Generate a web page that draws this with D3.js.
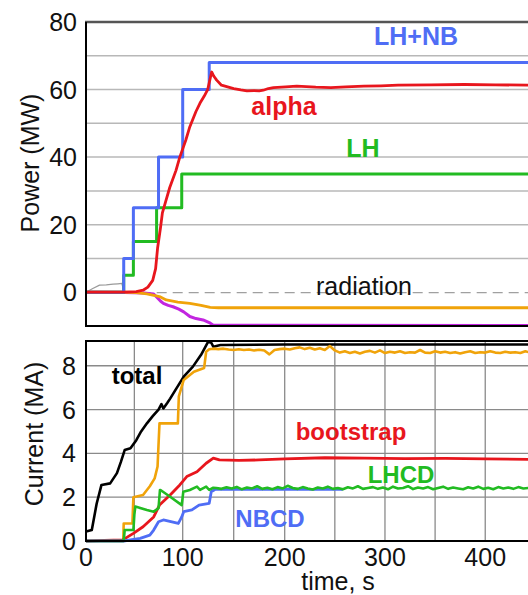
<!DOCTYPE html>
<html><head><meta charset="utf-8">
<script src="https://cdn.jsdelivr.net/npm/d3@7"></script>
<style>
body{margin:0;background:#fff;}
svg{display:block;font-family:"Liberation Sans",Arial,Helvetica,sans-serif;}
</style></head>
<body>
<svg id="c" width="528" height="595"></svg>
<script>
// ---------- DATA ----------
// Power panel (MW)
const lhnbT = [0, 39, 49, 75, 100, 126, 500];
const lhnbV = [0, 10, 25, 40, 60, 68, 68];
const lhT = [0, 39, 49, 73, 99, 500];
const lhV = [0, 5, 15, 25, 35, 35];
const alphaT = [0,39,52,59,64,69,72,74,77,79,82.5,86.6,93,97,103,107,113,117,121,124.5,128.4,130.4,133.3,138,144,150,157,163,170,175,179,184,189,201,212,231,246,261,279,296,313,346,379,410,442,500];
const alphaV = [0,0,0.2,0.6,1.5,3.5,7,13,19,23.5,27,31,36,40,45,49,53.5,56,58,60,65.2,64,62.8,61.3,60.8,60.3,59.9,59.6,59.7,59.6,59.8,60.3,60.6,60.8,61,60.7,60.6,60.8,61,61.1,61.3,61.4,61.5,61.4,61.3,61.3];
const orangePT = [0,39,52,63,70,77,83,95,107,118,127,135,500];
const orangePV = [0,0,-0.1,-0.5,-0.9,-1.4,-2.3,-2.9,-3.3,-3.9,-4.5,-4.6,-4.6];
const magentaT = [0,40,60,70,73,77,80,85,90,96,101,107,113,120,126,130,500];
const magentaV = [0,-0.1,-0.2,-0.5,-1.4,-2.6,-3.3,-3.9,-4.3,-5.0,-5.8,-7.2,-7.8,-8.2,-9.0,-9.8,-9.85];
const radEarlyT = [0,7,14,21,28,33,37,39.5];
const radEarlyV = [0,1.1,2.1,2.2,2.4,2.5,2.6,0];
const radLateT = [40, 500];
const radLateV = [-0.1, -0.1];
const powerTicks = [0, 20, 40, 60, 80];
const powerGrid = [10, 20, 30, 40, 50, 60, 70];

// Current panel (MA)
const totalT = [0,6,11,16,25,32,36,40,46,52,57,63,69,75,78,80,84,87,94,101,110,118,125,128,130,137,200,300,400,500];
const totalV = [0.43,0.5,1.7,2.56,2.63,3.1,3.6,4.15,4.23,4.6,5.0,5.37,5.7,6.0,6.25,6.05,6.3,6.5,7.0,7.5,7.96,8.5,9.1,9.05,8.87,8.95,8.97,8.97,8.97,8.97];
const noiseT = d3.range(130, 450, 5);
const orangeCT = [0,38.5,39,48,49,59,66,71,74,75,76,95,96,101,111,121,123,126];
const orangeCV = [0,0,0.8,0.8,2.0,2.1,2.5,2.86,3.4,4.4,5.37,5.37,6.6,7.35,7.73,7.9,8.64,8.75];
const orangeNoise = [8.78,8.76,8.78,8.74,8.72,8.75,8.72,8.74,8.7,8.73,8.7,8.52,8.72,8.76,8.78,8.74,8.8,8.84,8.76,8.82,8.74,8.8,8.72,8.9,8.7,
  8.6,8.66,8.58,8.64,8.56,8.64,8.68,8.6,8.7,8.58,8.64,8.6,8.66,8.58,8.62,8.6,8.72,8.6,8.58,8.66,8.6,8.64,8.58,8.62,8.56,8.62,8.66,8.58,8.62,8.6,8.66,8.6,8.58,8.64,8.6,8.62,8.58,8.66,8.6];
const bootT = [0,38,49,59,70,76,87,97,104,114,123,130,136,155,175,200,240,280,320,360,400,450,500];
const bootV = [0,0.05,0.35,0.65,1.1,1.64,2.1,2.56,2.94,3.16,3.55,3.78,3.7,3.68,3.7,3.75,3.8,3.78,3.76,3.77,3.75,3.72,3.72];
const lhcdT = [0,39,40,49,50,51,63,70,75,76.5,77,87,99,100.6,107,114,117,123,126,130];
const lhcdV = [0,0,0.5,0.5,1.2,1.57,1.42,1.34,1.5,2.33,2.33,2.02,1.64,2.25,2.33,2.48,2.33,2.48,2.33,2.43];
const lhcdNoise = [2.42,2.38,2.45,2.4,2.47,2.36,2.44,2.4,2.5,2.38,2.43,2.36,2.46,2.4,2.52,2.42,2.38,2.46,2.4,2.35,2.44,2.4,2.48,2.38,2.42,2.36,2.45,2.4,2.5,2.38,2.42,2.46,2.38,2.44,2.36,2.48,2.4,2.42,2.5,2.37,2.44,2.4,2.46,2.36,2.42,2.48,2.38,2.44,2.4,2.36,2.45,2.4,2.48,2.38,2.43,2.36,2.46,2.4,2.44,2.38,2.46,2.4,2.42,2.38];
const nbcdT = [0,39,56,66,70,75,80,95.5,99,101,109,116,126,128,132,258];
const nbcdV = [0,0,0.12,0.27,0.5,0.88,0.96,0.8,1.1,1.34,1.42,1.64,1.72,2.25,2.36,2.36];
const currentTicks = [0, 2, 4, 6, 8];
const currentGrid = [2, 4, 6, 8];
const timeTicks = [0, 100, 200, 300, 400];
const timeGrid = [50, 100, 150, 200, 250, 300, 350, 400, 450];

// ---------- DRAW ----------
const svg = d3.select("#c");
const x = d3.scaleLinear().domain([0, 100, 200, 500]).range([86, 182.7, 284.7, 585.5]);
const yP = d3.scaleLinear().domain([-10, 80]).range([326, 22]);
const yC = d3.scaleLinear().domain([0, 9.13]).range([541, 341]);

const C = {blue:"#4f6df5", green:"#22bb22", red:"#e8161d", orange:"#f0a30a", magenta:"#c225e0", black:"#000"};

const zip = (t, v) => t.map((d, i) => [d, v[i]]);

// Power panel grid
svg.append("g").selectAll("line").data(powerGrid).join("line")
  .attr("x1", x(0)).attr("x2", 528)
  .attr("y1", d => yP(d)).attr("y2", d => yP(d))
  .attr("stroke", "#b8b8b8").attr("stroke-width", 1.5);

// Current panel grid
svg.append("g").selectAll("line").data(currentGrid).join("line")
  .attr("x1", x(0)).attr("x2", 528)
  .attr("y1", d => yC(d)).attr("y2", d => yC(d))
  .attr("stroke", "#8a8a8a").attr("stroke-width", 1.3);
svg.append("g").selectAll("line").data(timeGrid).join("line")
  .attr("x1", d => x(d)).attr("x2", d => x(d))
  .attr("y1", yC(0)).attr("y2", yC(9.13))
  .attr("stroke", "#8a8a8a").attr("stroke-width", 1.3);

const lineP = d3.line().x(d => x(d[0])).y(d => yP(d[1]));
const lineC = d3.line().x(d => x(d[0])).y(d => yC(d[1]));
const stepP = d3.line().x(d => x(d[0])).y(d => yP(d[1])).curve(d3.curveStepAfter);

function path(g, data, gen, color, w, dash) {
  const p = g.append("path").datum(data).attr("d", gen)
    .attr("fill", "none").attr("stroke", color).attr("stroke-width", w)
    .attr("stroke-linejoin", "round").attr("stroke-linecap", "butt");
  if (dash) p.attr("stroke-dasharray", dash);
  return p;
}

const gP = svg.append("g");
path(gP, zip(radLateT, radLateV), lineP, "#a0a0a0", 1.2, "10,6");
path(gP, zip(radEarlyT, radEarlyV), lineP, "#9a9a9a", 1.2);
path(gP, zip(magentaT, magentaV), lineP, C.magenta, 3);
path(gP, zip(orangePT, orangePV), lineP, C.orange, 2.8);
path(gP, zip(lhT, lhV), stepP, C.green, 3);
path(gP, zip(lhnbT, lhnbV), stepP, C.blue, 3);
path(gP, zip(alphaT, alphaV), lineP, C.red, 2.8);

const gC = svg.append("g");
path(gC, zip(totalT, totalV), lineC, C.black, 2.6);
path(gC, zip(orangeCT, orangeCV).concat(zip(noiseT, orangeNoise)), lineC, C.orange, 2.6);
path(gC, zip(bootT, bootV), lineC, C.red, 2.8);
path(gC, zip(nbcdT, nbcdV), lineC, C.blue, 2.8);
path(gC, zip(lhcdT, lhcdV).concat(zip(noiseT.map(t => t + 3), lhcdNoise)), lineC, C.green, 2.6);

// Frames
function hline(y, x1, x2, color, w) {
  svg.append("line").attr("x1", x1).attr("x2", x2).attr("y1", y).attr("y2", y)
    .attr("stroke", color).attr("stroke-width", w);
}
function vline(xx, y1, y2, color, w) {
  svg.append("line").attr("x1", xx).attr("x2", xx).attr("y1", y1).attr("y2", y2)
    .attr("stroke", color).attr("stroke-width", w);
}
hline(yP(80), x(0) - 1, 528, "#555", 2.4);
hline(yP(-10), x(0) - 1, 528, "#000", 2);
vline(x(0), yP(80), yP(-10), "#000", 2);
hline(yC(9.13), x(0) - 1, 528, "#000", 2.2);
hline(yC(0), x(0) - 1, 528, "#000", 2);
vline(x(0), yC(9.13), yC(0), "#000", 2);

// Tick labels
svg.append("g").selectAll("text").data(powerTicks).join("text")
  .attr("x", 77).attr("y", d => yP(d)).attr("dy", "0.36em")
  .attr("text-anchor", "end").attr("font-size", 25).attr("fill", "#111")
  .text(d => d);
svg.append("g").selectAll("text").data(currentTicks).join("text")
  .attr("x", 76).attr("y", d => yC(d)).attr("dy", "0.36em")
  .attr("text-anchor", "end").attr("font-size", 25).attr("fill", "#111")
  .text(d => d);
svg.append("g").selectAll("text").data(timeTicks).join("text")
  .attr("x", d => x(d)).attr("y", 566)
  .attr("text-anchor", "middle").attr("font-size", 25).attr("fill", "#111")
  .text(d => d);

// Axis titles
svg.append("text").attr("transform", "translate(39,163) rotate(-90)")
  .attr("text-anchor", "middle").attr("font-size", 25).attr("fill", "#111").text("Power (MW)");
svg.append("text").attr("transform", "translate(43,434) rotate(-90)")
  .attr("text-anchor", "middle").attr("font-size", 25).attr("fill", "#111").text("Current (MA)");
svg.append("text").attr("x", 338).attr("y", 590)
  .attr("text-anchor", "middle").attr("font-size", 25).attr("fill", "#111").text("time, s");

// Series labels
const labels = [
  {t: "LH+NB", x: 416, y: 45, c: C.blue, s: 25, b: true},
  {t: "alpha", x: 284, y: 115, c: C.red, s: 25, b: true},
  {t: "LH", x: 363, y: 157, c: C.green, s: 25, b: true},
  {t: "radiation", x: 364, y: 295, c: "#111", s: 25, b: false},
  {t: "total", x: 137, y: 384, c: C.black, s: 24, b: true},
  {t: "bootstrap", x: 351, y: 440, c: C.red, s: 24, b: true},
  {t: "LHCD", x: 401, y: 483, c: C.green, s: 24, b: true},
  {t: "NBCD", x: 270, y: 527, c: C.blue, s: 24, b: true}
];
svg.append("g").selectAll("text").data(labels).join("text")
  .attr("x", d => d.x).attr("y", d => d.y).attr("text-anchor", "middle")
  .attr("font-size", d => d.s).attr("font-weight", d => d.b ? "bold" : "normal")
  .attr("fill", d => d.c).text(d => d.t);
</script>
</body></html>
